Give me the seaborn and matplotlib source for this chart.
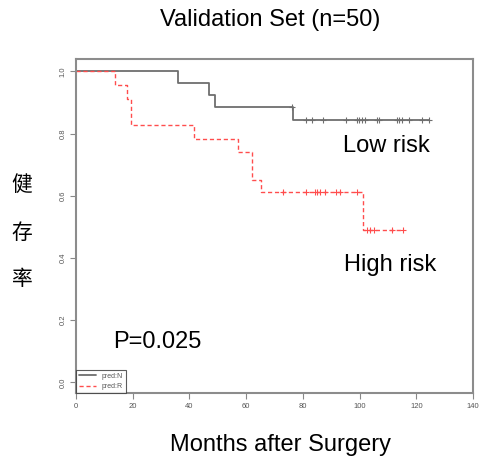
import numpy as np
import matplotlib
matplotlib.use("Agg")
import matplotlib.pyplot as plt
import pandas as pd
import seaborn as sns

# step curves (time in months, survival after the step)
low_t = [0, 35.9, 47.0, 48.9, 76.6, 124.5]
low_s = [1.0, 0.962, 0.924, 0.885, 0.845, 0.845]
low_cens_t = [76.2, 81.1, 83.1, 87.2, 95.1, 99.0, 99.9, 100.7, 101.9, 106.0,
              106.9, 113.1, 114.0, 114.9, 117.4, 122.1, 124.5]
low_cens_s = [0.885] + [0.845] * 16

high_t = [0, 13.8, 18.1, 19.4, 41.7, 57.2, 61.9, 65.2, 101.3, 115.2]
high_s = [1.0, 0.956, 0.912, 0.827, 0.784, 0.741, 0.652, 0.611, 0.490, 0.490]
high_cens_t = [73.1, 81.1, 84.3, 85.1, 86.0, 87.8, 91.7, 93.1, 99.0,
               102.5, 103.7, 105.1, 111.3, 115.2]
high_cens_s = [0.611] * 9 + [0.490] * 5

x_ticks = [0, 20, 40, 60, 80, 100, 120, 140]
y_ticks = [0.0, 0.2, 0.4, 0.6, 0.8, 1.0]

low_col = "#6e6e6e"
high_col = "#ff4d4d"

sns.set_style("white")
plt.rcParams['font.family'] = ['Liberation Sans', 'Noto Sans CJK SC', 'DejaVu Sans']
plt.rcParams['text.color'] = 'black'

fig = plt.figure(figsize=(4.79, 4.63), dpi=100)
ax = fig.add_axes([0.1587, 0.1512, 0.8288, 0.7214])

low_df = pd.DataFrame({'t': low_t, 's': low_s})
high_df = pd.DataFrame({'t': high_t, 's': high_s})

sns.lineplot(data=low_df, x='t', y='s', ax=ax, estimator=None, sort=False,
             drawstyle='steps-post', color=low_col, linewidth=1.3, label='pred:N')
sns.lineplot(data=high_df, x='t', y='s', ax=ax, estimator=None, sort=False,
             drawstyle='steps-post', color=high_col, linewidth=1.0,
             linestyle=(0, (3, 2)), label='pred:R')

sns.scatterplot(x=low_cens_t, y=low_cens_s, ax=ax, marker='+', color=low_col,
                s=18, linewidth=0.8, legend=False)
sns.scatterplot(x=high_cens_t, y=high_cens_s, ax=ax, marker='+', color=high_col,
                s=18, linewidth=0.8, legend=False)

ax.set_xlim(0, 140)
ax.set_ylim(-0.034, 1.04)
ax.set_xticks(x_ticks)
ax.set_xticklabels([str(v) for v in x_ticks])
ax.set_yticks(y_ticks)
ax.set_yticklabels(["%.1f" % v for v in y_ticks], rotation=90, va='center')
ax.tick_params(axis='both', which='both', direction='out', length=4, width=0.8,
               color='#888888', labelsize=5.5, labelcolor='#555555', pad=3,
               left=True, bottom=True)
for sp in ax.spines.values():
    sp.set_color('#8c8c8c')
    sp.set_linewidth(1.5)
ax.set_xlabel("")
ax.set_ylabel("")

leg = ax.legend(loc='lower left', fontsize=5, frameon=True, fancybox=False,
                borderaxespad=0, handlelength=2.5, labelcolor='#555555')
leg.get_frame().set_edgecolor('#333333')
leg.get_frame().set_linewidth(0.8)

ax.text(94.1, 0.759, "Low risk", fontsize=17, ha='left', va='center', color='black')
ax.text(94.5, 0.377, "High risk", fontsize=17, ha='left', va='center', color='black')
ax.text(13.0, 0.130, "P=0.025", fontsize=17, ha='left', va='center', color='black')

fig.text(270 / 479, 1 - 20 / 463, "Validation Set (n=50)", fontsize=17,
         ha='center', va='center', color='black')
fig.text(281 / 479, 1 - 445 / 463, "Months after Surgery", fontsize=17,
         ha='center', va='center', color='black')
for ch, yy in zip(["健", "存", "率"], [185, 233, 279]):
    fig.text(22 / 479, 1 - yy / 463, ch, fontsize=15, ha='center', va='center',
             color='black', family=['Noto Sans CJK SC', 'DejaVu Sans'])

fig.savefig("out.png", dpi=100)
